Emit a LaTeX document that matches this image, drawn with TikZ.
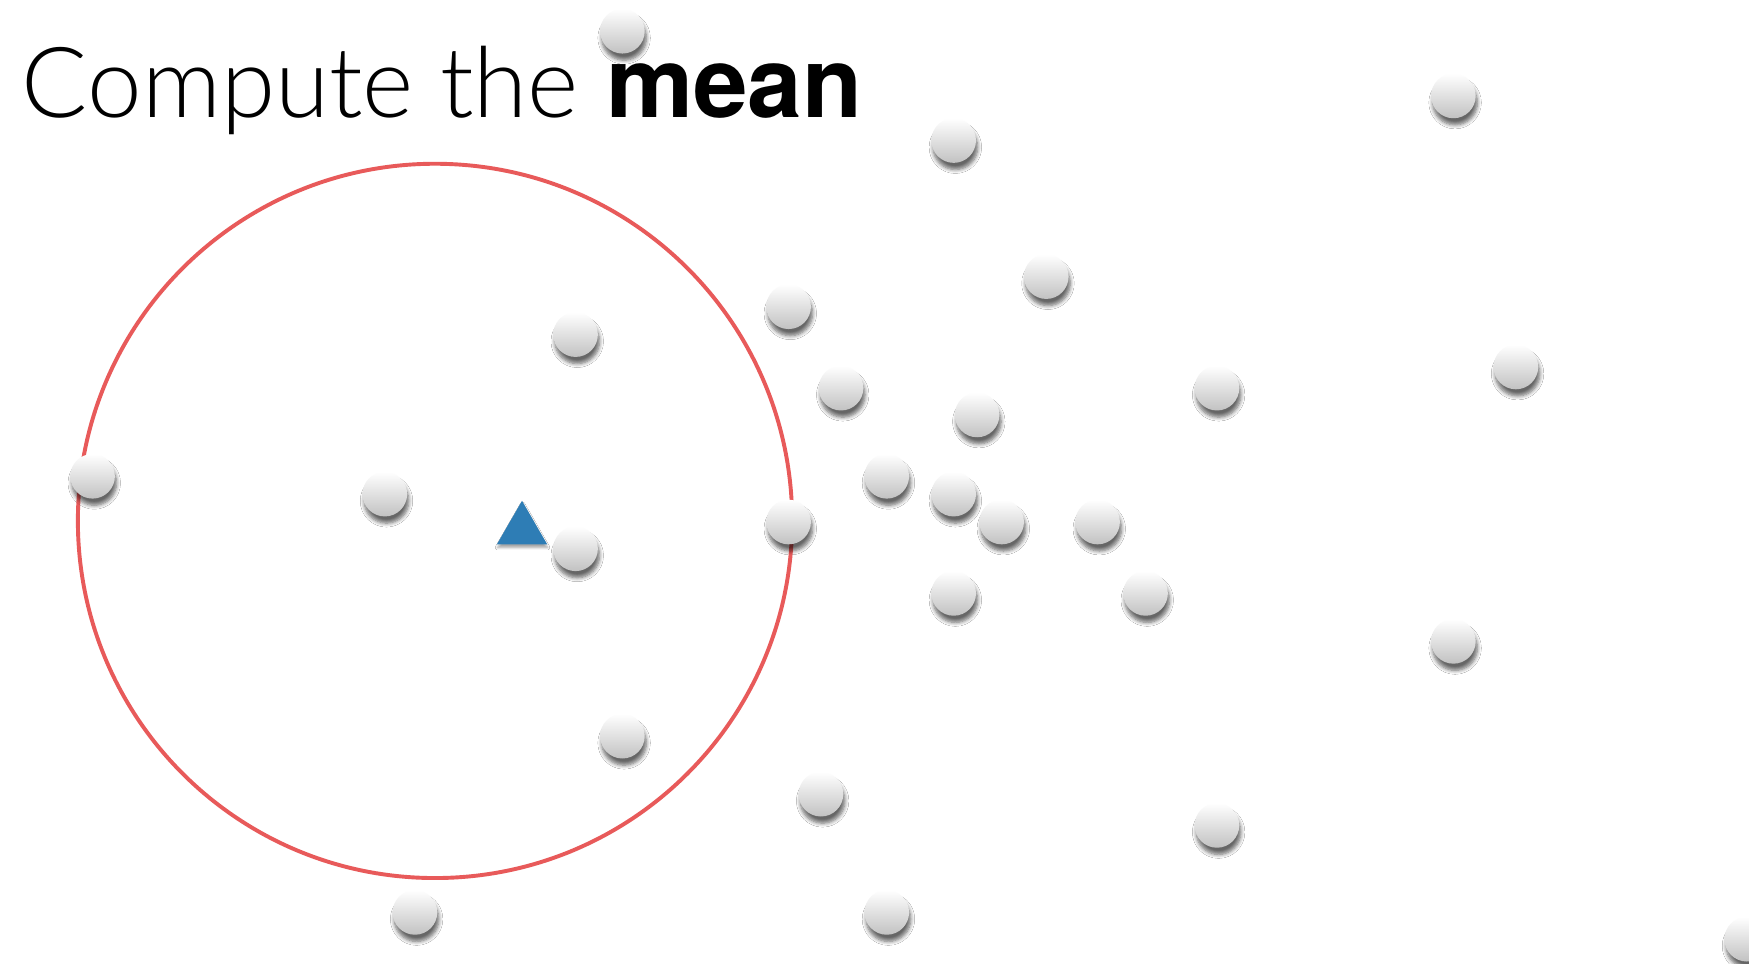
\documentclass[tikz,border=0pt]{standalone}
\usepackage{fontspec}
\setmainfont{TeX Gyre Heros}
\newfontfamily\lightfont{Lato Light}
\usetikzlibrary{shadows.blur,shapes.geometric}
\definecolor{ringred}{HTML}{E85A5A}
\definecolor{meanblue}{HTML}{2E7DB5}
\tikzset{
  ball/.style={circle, minimum size=0.40cm, inner sep=0pt, draw=none,
    top color=white, bottom color=black!24,
    blur shadow={shadow xshift=0.015cm, shadow yshift=-0.06cm, shadow blur radius=0.035cm, shadow blur steps=6, shadow opacity=60}},
  ring/.style={draw=ringred, line width=0.035cm},
  meantri/.style={regular polygon, regular polygon sides=3, fill=meanblue, draw=none,
    minimum size=0.52cm, inner sep=0pt,
    blur shadow={shadow xshift=0.005cm, shadow yshift=-0.03cm, shadow blur radius=0.02cm, shadow blur steps=4, shadow opacity=35}},
  title/.style={anchor=base west, inner sep=0pt, font=\fontsize{25pt}{28pt}\selectfont}
}
\begin{document}
\begin{tikzpicture}[x=0.01cm, y=-0.01cm]
\useasboundingbox (0,0) rectangle (1568,864);
\fill[white] (0,0) rectangle (1568,864);
\node[title] (t) at (19,105) {{\lightfont Compute the} \textbf{mean}};
\node[circle, minimum size=6.40cm, inner sep=0pt, ring] (c) at (390,467) {};
\foreach \n/\x/\y in {1/558/28, 2/1303/86, 3/855/126, 4/938/248, 5/707/275, 6/516/300,
  7/1359/329, 8/754/348, 9/1091/348, 10/876/372, 11/83/427, 12/345/443, 13/795/427,
  14/855/443, 15/707/468, 16/898/468, 17/984/468, 18/516/492, 19/855/532, 20/1027/532,
  21/1303/575, 22/558/660, 23/736/712, 24/1091/740, 25/372/818, 26/795/818, 27/1566/842}
  \node[ball] (b\n) at (\x,\y) {};
\node[meantri] (m) at (468,475) {};
\end{tikzpicture}
\end{document}
